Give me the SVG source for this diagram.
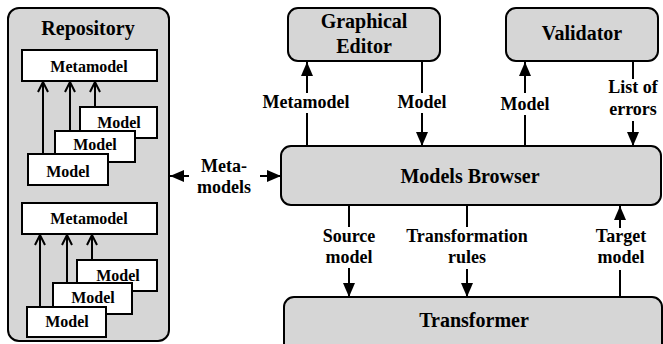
<svg xmlns="http://www.w3.org/2000/svg" width="663" height="344" viewBox="0 0 663 344">
<defs>
<style>
text{font-family:"Liberation Serif","Times New Roman",serif;font-weight:bold;fill:#000;text-anchor:middle}
.node{fill:#d6d6d6;stroke:#000;stroke-width:2}
.box{fill:#fff;stroke:#000;stroke-width:2}
.t20{font-size:20px}
.t18{font-size:18px}
.t16{font-size:16px}
.ln{stroke:#000;stroke-width:2;fill:none}
.fa{marker-end:url(#fa)}
.oa{marker-end:url(#oa)}
</style>
<marker id="fa" viewBox="0 0 14 12" refX="14" refY="6" markerWidth="14" markerHeight="12" markerUnits="userSpaceOnUse" orient="auto">
<path d="M0,0 L14,6 L0,12 Z" fill="#000"/>
</marker>
<marker id="oa" viewBox="0 0 12 12" refX="11" refY="6" markerWidth="12" markerHeight="12" markerUnits="userSpaceOnUse" orient="auto">
<path d="M1,1 L11,6 L1,11" fill="none" stroke="#000" stroke-width="2"/>
</marker>
</defs>

<g id="repository">
<rect class="node" x="8" y="8" width="161" height="333" rx="11"/>
<text class="t20" x="88" y="35">Repository</text>
<g id="metamodel1">
<rect class="box" x="22" y="50" width="135" height="31"/>
<text class="t16" x="89" y="72">Metamodel</text>
</g>
<g id="model1c"><rect class="box" x="80" y="107" width="77" height="31"/><text class="t16" x="119" y="128">Model</text></g>
<g id="model1b"><rect class="box" x="55" y="131" width="80" height="31"/><text class="t16" x="95" y="150">Model</text></g>
<g id="model1a"><rect class="box" x="28" y="154" width="80" height="31"/><text class="t16" x="68" y="177">Model</text></g>
<g id="metamodel2">
<rect class="box" x="22" y="203" width="135" height="31"/>
<text class="t16" x="89" y="224">Metamodel</text>
</g>
<g id="model2c"><rect class="box" x="77" y="260" width="80" height="31"/><text class="t16" x="118" y="281">Model</text></g>
<g id="model2b"><rect class="box" x="53" y="283" width="79" height="31"/><text class="t16" x="93" y="303">Model</text></g>
<g id="model2a"><rect class="box" x="27" y="307" width="79" height="30"/><text class="t16" x="67" y="327">Model</text></g>
</g>

<g id="editor">
<rect class="node" x="288" y="8" width="152" height="53" rx="10"/>
<text class="t20" x="364" y="28">Graphical</text>
<text class="t20" x="364" y="53">Editor</text>
</g>

<g id="validator">
<rect class="node" x="506" y="8" width="152" height="53" rx="10"/>
<text class="t20" x="582" y="40">Validator</text>
</g>

<g id="browser">
<rect class="node" x="281" y="146" width="380" height="59" rx="10"/>
<text class="t20" x="470" y="183">Models Browser</text>
</g>

<g id="transformer">
<rect class="node" x="284" y="297" width="378" height="60" rx="10"/>
<text class="t20" x="474" y="327">Transformer</text>
</g>

<g id="connectors">
<path class="ln oa" d="M43,154 V82"/>
<path class="ln oa" d="M70,131 V82"/>
<path class="ln oa" d="M95,107 V82"/>
<path class="ln oa" d="M40,307 V235"/>
<path class="ln oa" d="M67,283 V235"/>
<path class="ln oa" d="M92,260 V235"/>

<path class="ln fa" d="M189,176 H170"/>
<path class="ln fa" d="M260,176 H281"/>
<text class="t18" x="224" y="172">Meta-</text>
<text class="t18" x="224" y="193">models</text>

<path class="ln" d="M307,146 V113"/>
<path class="ln fa" d="M307,93 V62"/>
<text class="t18" x="306" y="108">Metamodel</text>

<path class="ln" d="M422,61 V93"/>
<path class="ln fa" d="M422,113 V146"/>
<text class="t18" x="422" y="108">Model</text>

<path class="ln" d="M525,146 V115"/>
<path class="ln fa" d="M525,93 V62"/>
<text class="t18" x="525" y="110">Model</text>

<path class="ln" d="M633,61 V79"/>
<path class="ln fa" d="M633,121 V146"/>
<text class="t18" x="633" y="93">List of</text>
<text class="t18" x="633" y="115">errors</text>

<path class="ln" d="M349,205 V227"/>
<path class="ln fa" d="M349,268 V297"/>
<text class="t18" x="349" y="242">Source</text>
<text class="t18" x="349" y="263">model</text>

<path class="ln" d="M467,205 V227"/>
<path class="ln fa" d="M467,269 V297"/>
<text class="t18" x="467" y="242">Transformation</text>
<text class="t18" x="467" y="263">rules</text>

<path class="ln" d="M620,297 V270"/>
<path class="ln fa" d="M620,228 V206"/>
<text class="t18" x="621" y="242">Target</text>
<text class="t18" x="621" y="263">model</text>
</g>
</svg>
